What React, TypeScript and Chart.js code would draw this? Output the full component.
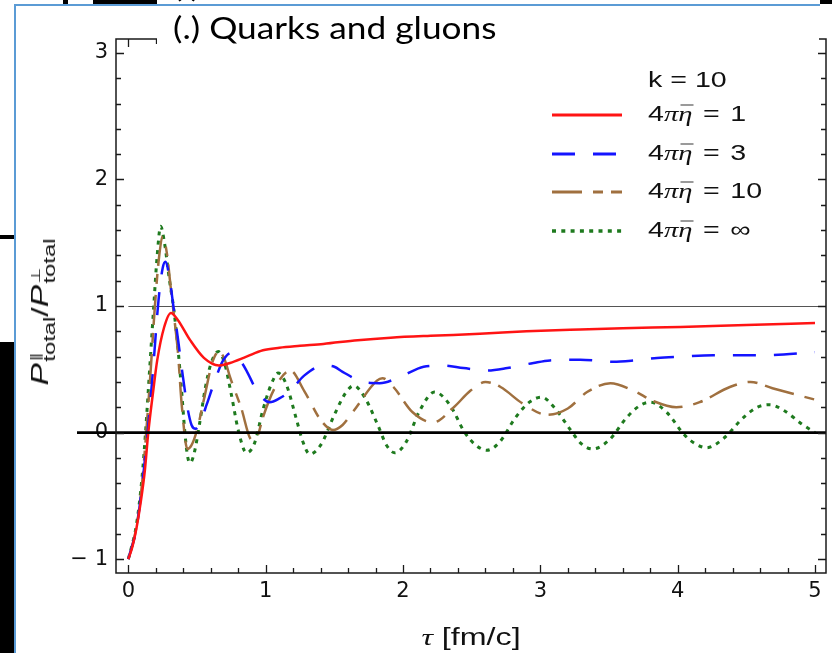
import React, { useEffect, useRef } from "react";
import { Chart, registerables } from "chart.js";

Chart.register(...registerables);

// ---- data ----
const tauEta1 = [0, 0.03, 0.06, 0.09, 0.12, 0.145, 0.18, 0.21, 0.26, 0.31, 0.36, 0.45, 0.55, 0.66, 0.74, 0.86, 0.98, 1.1, 1.25, 1.42, 1.67, 1.91, 2.2, 2.56, 2.9, 3.29, 3.6, 4.02, 4.5, 5.0];
const ratioEta1 = [-1, -0.9, -0.75, -0.55, -0.3, 0.0, 0.32, 0.57, 0.83, 0.945, 0.89, 0.73, 0.59, 0.53, 0.55, 0.6, 0.65, 0.67, 0.685, 0.7, 0.73, 0.75, 0.765, 0.78, 0.8, 0.815, 0.825, 0.835, 0.85, 0.865];

const tauEta3 = [0, 0.06, 0.1, 0.14, 0.18, 0.22, 0.25, 0.27, 0.3, 0.33, 0.36, 0.39, 0.43, 0.46, 0.49, 0.53, 0.57, 0.63, 0.69, 0.75, 0.8, 0.86, 0.92, 0.97, 1.03, 1.1, 1.18, 1.28, 1.42, 1.5, 1.56, 1.71, 1.83, 1.98, 2.15, 2.29, 2.44, 2.61, 2.76, 2.95, 3.07, 3.29, 3.53, 3.68, 3.85, 4.02, 4.26, 4.62, 5.0];
const ratioEta3 = [-1, -0.75, -0.42, 0.0, 0.5, 1.05, 1.3, 1.35, 1.22, 0.98, 0.75, 0.5, 0.2, 0.06, 0.03, 0.1, 0.22, 0.41, 0.57, 0.63, 0.59, 0.49, 0.36, 0.28, 0.24, 0.27, 0.33, 0.45, 0.53, 0.52, 0.48, 0.4, 0.39, 0.44, 0.52, 0.53, 0.51, 0.49, 0.51, 0.55, 0.57, 0.575, 0.56, 0.57, 0.59, 0.6, 0.61, 0.61, 0.635];

const tauEta10 = [0, 0.06, 0.1, 0.13, 0.16, 0.19, 0.22, 0.25, 0.28, 0.31, 0.34, 0.36, 0.39, 0.43, 0.46, 0.5, 0.56, 0.61, 0.66, 0.7, 0.74, 0.82, 0.9, 0.94, 0.98, 1.07, 1.18, 1.28, 1.4, 1.49, 1.56, 1.64, 1.81, 1.85, 1.93, 2.07, 2.22, 2.37, 2.49, 2.6, 2.71, 2.87, 3.05, 3.2, 3.34, 3.51, 3.68, 3.82, 3.99, 4.16, 4.38, 4.53, 4.69, 5.0];
const ratioEta10 = [-1, -0.74, -0.4, 0.0, 0.45, 0.95, 1.35, 1.55, 1.42, 1.13, 0.85, 0.65, 0.2, -0.13, -0.1, 0.02, 0.31, 0.55, 0.64, 0.58, 0.44, 0.2, -0.06, -0.03, 0.12, 0.36, 0.49, 0.33, 0.1, 0.02, 0.06, 0.17, 0.41, 0.43, 0.36, 0.16, 0.08, 0.2, 0.33, 0.4, 0.36, 0.23, 0.14, 0.19, 0.32, 0.39, 0.33, 0.25, 0.2, 0.24, 0.36, 0.4, 0.35, 0.26];

const tauEtaInf = [0, 0.06, 0.1, 0.125, 0.155, 0.185, 0.21, 0.235, 0.26, 0.3, 0.33, 0.36, 0.39, 0.41, 0.43, 0.45, 0.48, 0.52, 0.56, 0.6, 0.655, 0.7, 0.75, 0.8, 0.86, 0.92, 0.98, 1.04, 1.09, 1.15, 1.22, 1.27, 1.32, 1.4, 1.5, 1.58, 1.64, 1.72, 1.82, 1.88, 1.94, 2.02, 2.12, 2.23, 2.34, 2.45, 2.53, 2.61, 2.7, 2.82, 2.92, 3.01, 3.1, 3.22, 3.3, 3.38, 3.5, 3.63, 3.72, 3.8, 3.92, 4.05, 4.13, 4.21, 4.33, 4.48, 4.58, 4.67, 4.78, 4.9, 5.0];
const ratioEtaInf = [-1, -0.72, -0.35, 0.0, 0.5, 1.0, 1.4, 1.63, 1.52, 1.2, 0.98, 0.68, 0.3, 0.02, -0.18, -0.24, -0.16, 0.08, 0.35, 0.54, 0.64, 0.55, 0.3, 0.02, -0.16, -0.08, 0.18, 0.38, 0.47, 0.38, 0.12, -0.07, -0.17, -0.1, 0.14, 0.31, 0.37, 0.28, 0.05, -0.1, -0.16, -0.08, 0.17, 0.32, 0.22, 0.0, -0.1, -0.14, -0.08, 0.12, 0.24, 0.28, 0.2, 0.02, -0.09, -0.13, -0.06, 0.12, 0.21, 0.24, 0.16, -0.02, -0.09, -0.12, -0.05, 0.12, 0.2, 0.22, 0.17, 0.07, 0.0];

const etaLabels = ["1", "3", "10", "\u221E"];
const xTickValues = [0, 1, 2, 3, 4, 5];
const yTickValues = [-1, 0, 1, 2, 3];

const X_MIN = -0.09;
const X_MAX = 5.08;
const Y_MIN = -1.11;
const Y_MAX = 3.11;

const series = [
  { tau: tauEta1, ratio: ratioEta1, color: "#ff1414", dash: [] as number[], width: 2.5 },
  { tau: tauEta3, ratio: ratioEta3, color: "#1414ff", dash: [23, 18], width: 2.5 },
  { tau: tauEta10, ratio: ratioEta10, color: "#a0703f", dash: [30, 11, 10, 8], width: 2.5 },
  { tau: tauEtaInf, ratio: ratioEtaInf, color: "#1e7a1e", dash: [4, 5.3], width: 3 },
];

const zip = (xs: number[], ys: number[]) => xs.map((x, i) => ({ x, y: ys[i] }));

const INK = "#111";

const framePlugin = {
  id: "mmaFrame",
  beforeDatasetsDraw(chart: any) {
    const { ctx, chartArea: a, scales } = chart;
    const xs = scales.x;
    const ys = scales.y;
    const y1 = Math.round(ys.getPixelForValue(1)) + 0.5;
    ctx.save();
    ctx.strokeStyle = "#555";
    ctx.lineWidth = 1.2;
    ctx.beginPath();
    ctx.moveTo(xs.getPixelForValue(0), y1);
    ctx.lineTo(a.right, y1);
    ctx.stroke();
    ctx.restore();
  },
  afterDatasetsDraw(chart: any) {
    const { ctx, chartArea: a, scales } = chart;
    const xs = scales.x;
    const ys = scales.y;
    ctx.save();
    // thick zero line (extends past the frame on the left)
    const y0 = ys.getPixelForValue(0);
    ctx.strokeStyle = "#000";
    ctx.lineWidth = 2.8;
    ctx.beginPath();
    ctx.moveTo(a.left - 39, y0);
    ctx.lineTo(a.right, y0);
    ctx.stroke();

    // frame
    ctx.strokeStyle = "#1a1a1a";
    ctx.lineWidth = 1.5;
    ctx.strokeRect(a.left, a.top, a.right - a.left, a.bottom - a.top);

    // ticks
    ctx.lineWidth = 1.3;
    ctx.beginPath();
    for (let i = 0; i <= 25; i++) {
      const v = i * 0.2;
      const major = i % 5 === 0;
      const len = major ? 8 : 5;
      const px = Math.round(xs.getPixelForValue(v)) + 0.5;
      ctx.moveTo(px, a.bottom);
      ctx.lineTo(px, a.bottom - len);
      ctx.moveTo(px, a.top);
      ctx.lineTo(px, a.top + len);
    }
    for (let i = -5; i <= 15; i++) {
      const v = i * 0.2;
      const major = i % 5 === 0;
      const len = major ? 8 : 5;
      const py = Math.round(ys.getPixelForValue(v)) + 0.5;
      ctx.moveTo(a.left, py);
      ctx.lineTo(a.left + len, py);
      ctx.moveTo(a.right, py);
      ctx.lineTo(a.right - len, py);
    }
    ctx.stroke();

    // legend samples
    const x0 = a.right - 274;
    const x1 = a.right - 204;
    const rowsY = [76, 115, 153, 192];
    chart.data.datasets.forEach((ds: any, i: number) => {
      const yy = a.top + rowsY[i];
      ctx.strokeStyle = ds.borderColor;
      ctx.lineWidth = ds.borderWidth + 0.4;
      ctx.setLineDash(ds.borderDash || []);
      ctx.beginPath();
      ctx.moveTo(x0, yy);
      ctx.lineTo(x1, yy);
      ctx.stroke();
    });
    ctx.setLineDash([]);
    ctx.restore();
  },
};

const tickFont = { family: "'DejaVu Sans', sans-serif", size: 21 };

function Scripts({ sup, sub }: { sup: string; sub: string }) {
  return (
    <span
      style={{
        display: "inline-block",
        verticalAlign: "-7px",
        lineHeight: "14px",
        textAlign: "left",
        marginLeft: 1,
        fontStyle: "normal",
      }}
    >
      <span style={{ display: "block", fontSize: 13 }}>{sup}</span>
      <span style={{ display: "block", fontSize: 17 }}>{sub}</span>
    </span>
  );
}

function EtaLabel({ value }: { value: string }) {
  const serifItalic: React.CSSProperties = { fontFamily: "'Liberation Serif', serif", fontStyle: "italic" };
  return (
    <span>
      4<span style={serifItalic}>{"\u03C0"}</span>
      <span style={{ ...serifItalic, position: "relative", display: "inline-block" }}>
        {"\u03B7"}
        <span
          style={{
            position: "absolute",
            left: 2,
            right: -1,
            top: 2,
            height: 2,
            background: "#9a9a9a",
          }}
        />
      </span>
      <span style={{ margin: "0 2px" }}>{" = "}</span>
      {value}
    </span>
  );
}

export default function App() {
  const canvasRef = useRef<HTMLCanvasElement | null>(null);

  useEffect(() => {
    const canvas = canvasRef.current;
    if (!canvas) return;
    const chart = new Chart(canvas, {
      type: "line",
      data: {
        datasets: series.map((s, i) => ({
          label: "4\u03C0\u03B7 = " + etaLabels[i],
          data: zip(s.tau, s.ratio),
          borderColor: s.color,
          borderWidth: s.width,
          borderDash: s.dash,
          fill: false,
          pointRadius: 0,
          cubicInterpolationMode: "monotone" as const,
        })),
      },
      options: {
        animation: false,
        responsive: false,
        devicePixelRatio: 1,
        layout: { padding: { left: 0, top: 39, right: 6, bottom: 0 } },
        plugins: { legend: { display: false }, tooltip: { enabled: false } },
        elements: { point: { radius: 0 } },
        scales: {
          x: {
            type: "linear",
            min: X_MIN,
            max: X_MAX,
            grid: { display: false, drawTicks: false },
            border: { display: false },
            afterBuildTicks: (s: any) => {
              s.ticks = xTickValues.map((v) => ({ value: v }));
            },
            afterFit: (s: any) => {
              s.height = 80;
            },
            ticks: {
              font: tickFont,
              color: INK,
              padding: 6,
              maxRotation: 0,
              autoSkip: false,
              callback: (v: any) => String(v),
            },
          },
          y: {
            type: "linear",
            min: Y_MIN,
            max: Y_MAX,
            grid: { display: false, drawTicks: false },
            border: { display: false },
            afterBuildTicks: (s: any) => {
              s.ticks = yTickValues.map((v) => ({ value: v }));
            },
            afterFit: (s: any) => {
              s.width = 116;
            },
            ticks: {
              font: tickFont,
              color: INK,
              padding: 8,
              autoSkip: false,
              callback: (v: any) => (Number(v) < 0 ? "\u2212 " + Math.abs(Number(v)) : String(v)),
            },
          },
        },
      },
      plugins: [framePlugin],
    } as any);
    return () => chart.destroy();
  }, []);

  const abs = (l: number, t: number, w: number, h: number, bg: string): React.CSSProperties => ({
    position: "absolute",
    left: l,
    top: t,
    width: w,
    height: h,
    background: bg,
  });

  const legendText: React.CSSProperties = {
    position: "absolute",
    left: 648,
    fontFamily: "'Liberation Sans', Arial, sans-serif",
    fontSize: 22,
    lineHeight: "24px",
    color: INK,
    whiteSpace: "nowrap",
    transform: "scaleX(1.3)",
    transformOrigin: "0 50%",
  };

  const titleStyle: React.CSSProperties = {
    position: "absolute",
    left: 173,
    fontFamily: "Lato, 'Open Sans', sans-serif",
    fontSize: 30,
    lineHeight: "36px",
    color: "#000",
    whiteSpace: "nowrap",
    transform: "scaleX(1.175)",
    transformOrigin: "0 50%",
  };

  return (
    <div
      style={{
        position: "absolute",
        left: 0,
        top: 0,
        width: 832,
        height: 653,
        background: "#fff",
        overflow: "hidden",
      }}
    >
      <canvas ref={canvasRef} width={832} height={653} style={{ position: "absolute", left: 0, top: 0 }} />

      {/* slide decorations */}
      <div style={abs(157, 7, 662, 40, "#fff")} />
      <div style={abs(15, 4, 805, 2, "#5b9bd5")} />
      <div style={abs(14, 4, 2, 649, "#5b9bd5")} />
      <div style={abs(63, 0, 5, 4, "#000")} />
      <div style={abs(93, 0, 64, 4, "#000")} />
      <div style={abs(820, 0, 12, 4, "#000")} />
      <div style={abs(0, 235, 14, 4, "#000")} />
      <div style={abs(0, 342, 14, 311, "#000")} />

      <div style={{ ...titleStyle, top: -33 }}>(.)</div>
      <div style={{ ...titleStyle, top: 9 }}>(.) Quarks and gluons</div>

      {/* legend text */}
      <div style={{ ...legendText, top: 68 }}>k = 10</div>
      {etaLabels.map((v, i) => (
        <div key={v} style={{ ...legendText, top: 102 + i * 38.5 }}>
          <EtaLabel value={v} />
        </div>
      ))}

      {/* y axis title */}
      <div
        style={{
          position: "absolute",
          left: 41,
          top: 312,
          transform: "translate(-50%, -50%) rotate(-90deg) scaleX(1.4)",
          fontFamily: "'Liberation Sans', Arial, sans-serif",
          fontSize: 24,
          lineHeight: "30px",
          color: INK,
          whiteSpace: "nowrap",
        }}
      >
        <i>P</i>
        <Scripts sup={"\u2225"} sub="total" />
        /<i>P</i>
        <Scripts sup={"\u22A5"} sub="total" />
      </div>

      {/* x axis title */}
      <div
        style={{
          position: "absolute",
          left: 471,
          top: 637,
          transform: "translate(-50%, -50%) scaleX(1.4)",
          fontFamily: "'Liberation Sans', Arial, sans-serif",
          fontSize: 23,
          lineHeight: "28px",
          color: INK,
          whiteSpace: "nowrap",
        }}
      >
        <span style={{ fontFamily: "'Liberation Serif', serif", fontStyle: "italic" }}>{"\u03C4"}</span> [fm/c]
      </div>
    </div>
  );
}
